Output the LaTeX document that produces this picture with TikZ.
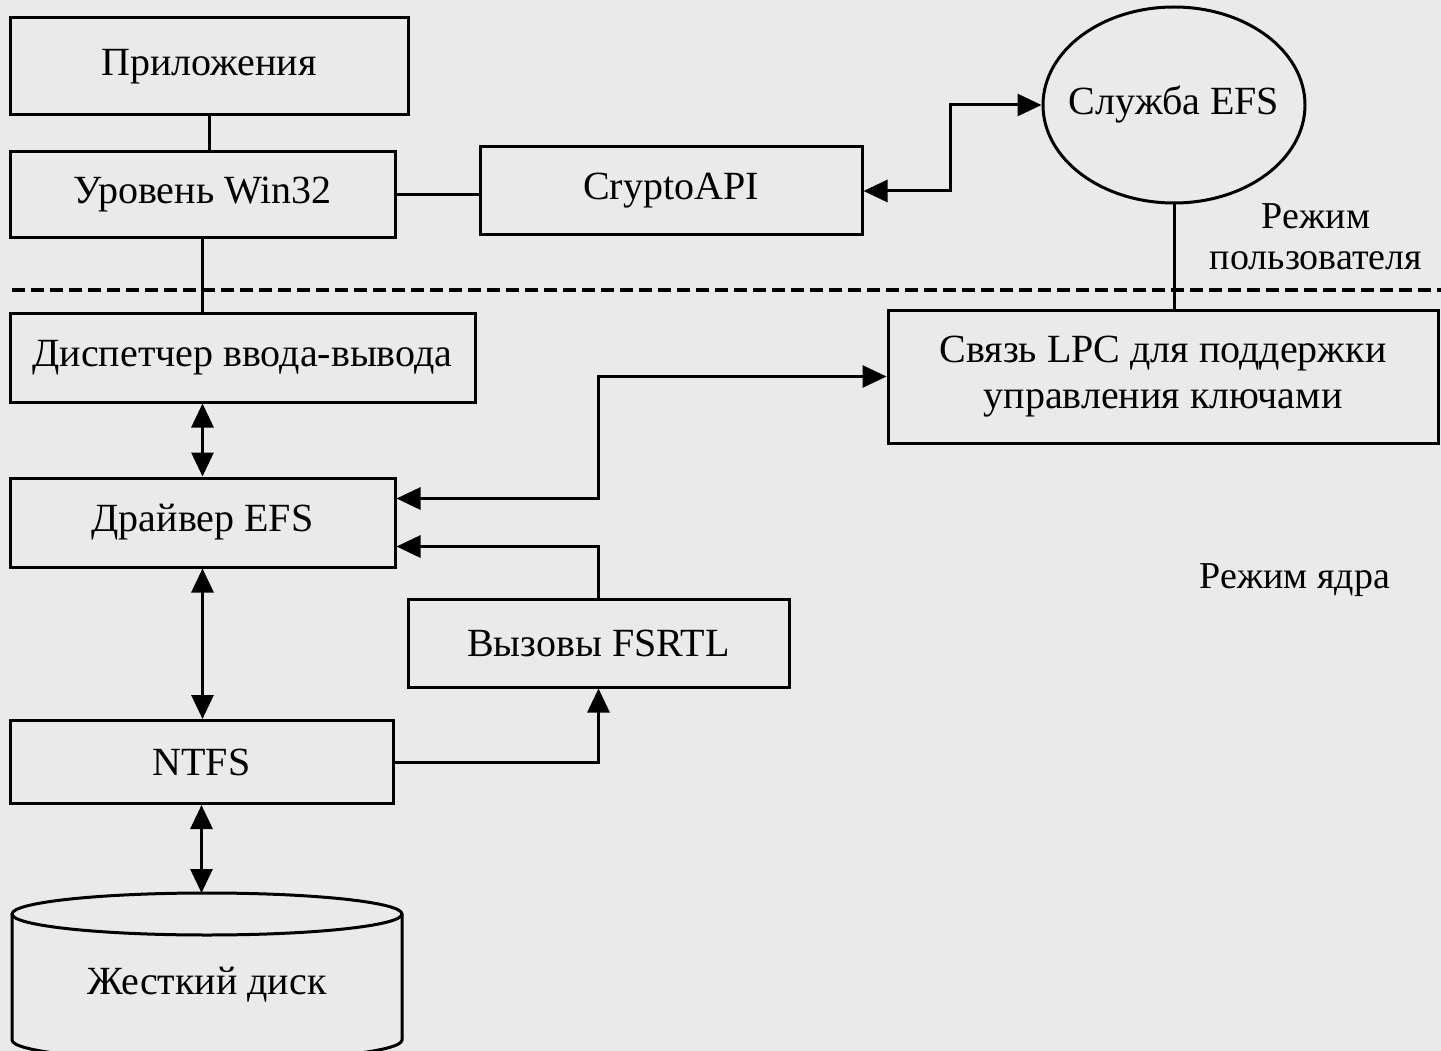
\documentclass[tikz,border=0pt]{standalone}
\usepackage{fontspec}
\setmainfont{Liberation Serif}
\usepackage{tikz}
\usetikzlibrary{shapes.geometric}
\usetikzlibrary{arrows.meta}
\definecolor{paper}{RGB}{234,234,234}

\begin{document}
\begin{tikzpicture}[x=1pt, y=-1pt, line width=3pt,
      >={Triangle[length=24pt,width=22pt]},
      every node/.style={align=center, inner sep=0pt, font=\fontsize{40}{46}\selectfont},
      block/.style 2 args={shape=rectangle, draw, minimum width=#1, minimum height=#2},
      modelabel/.style={font=\fontsize{38}{41}\selectfont}]
	\useasboundingbox (0,0) rectangle (1441,1051);
	\fill[paper] (0,0) rectangle (1441,1051);
	\node [block={398pt}{97pt}] (app) at (209,66.5) {Приложения};
	\node [block={385pt}{86pt}] (win) at (202.5,195) {Уровень Win32};
	\node [block={382pt}{88pt}] (crypto) at (671,191) {CryptoAPI};
	\node [shape=ellipse, draw, inner xsep=-16pt, minimum width=262pt, minimum height=196pt] (efs) at (1174,105) {Служба EFS};
	\node [modelabel] (umode) at (1316,237) {Режим\\пользователя};
	\draw [dash pattern=on 13pt off 6pt] (12,290) -- (1441,290);
	\node [block={465pt}{89pt}] (io) at (242.5,357.5) {Диспетчер ввода-вывода};
	\node [block={550pt}{133pt}] (lpc) at (1163,376.5) {Связь LPC для поддержки\\управления ключами};
	\node [block={385pt}{89pt}] (drv) at (202.5,522.5) {Драйвер EFS};
	\node [modelabel] (kmode) at (1295,580) {Режим ядра};
	\node [block={381pt}{88pt}] (fsrtl) at (598.5,643) {Вызовы FSRTL};
	\node [block={383pt}{83pt}] (ntfs) at (201.5,762) {NTFS};
	\node (disk) at (207,985) {Жесткий диск};
	\coordinate (disktop) at (201.5,893);
	\draw (12,914) -- (12,1040) arc [start angle=180, end angle=360, x radius=195pt, y radius=21pt] -- (402,914);
	\draw (207,914) ellipse [x radius=195pt, y radius=21pt];
	\draw (app.south) -- (app.south |- win.north);
	\draw (win.south) -- (win.south |- io.north);
	\draw (win.east) -- (crypto.west |- win.east);
	\draw [<->] (crypto.east) -- ++(87,0) |- (efs.west);
	\draw (efs.south) -- (efs.south |- lpc.north);
	\draw [<->] (drv.north |- io.south) -- (drv.north);
	\draw [<->] ([yshift=24pt]drv.east) -- ++(202,0) |- (lpc.west);
	\draw [->] (fsrtl.north) |- ([yshift=-24pt]drv.east);
	\draw [->] (ntfs.east) -| (fsrtl.south);
	\draw [<->] (drv.south) -- (drv.south |- ntfs.north);
	\draw [<->] (ntfs.south) -- (disktop);
\end{tikzpicture}
\end{document}
